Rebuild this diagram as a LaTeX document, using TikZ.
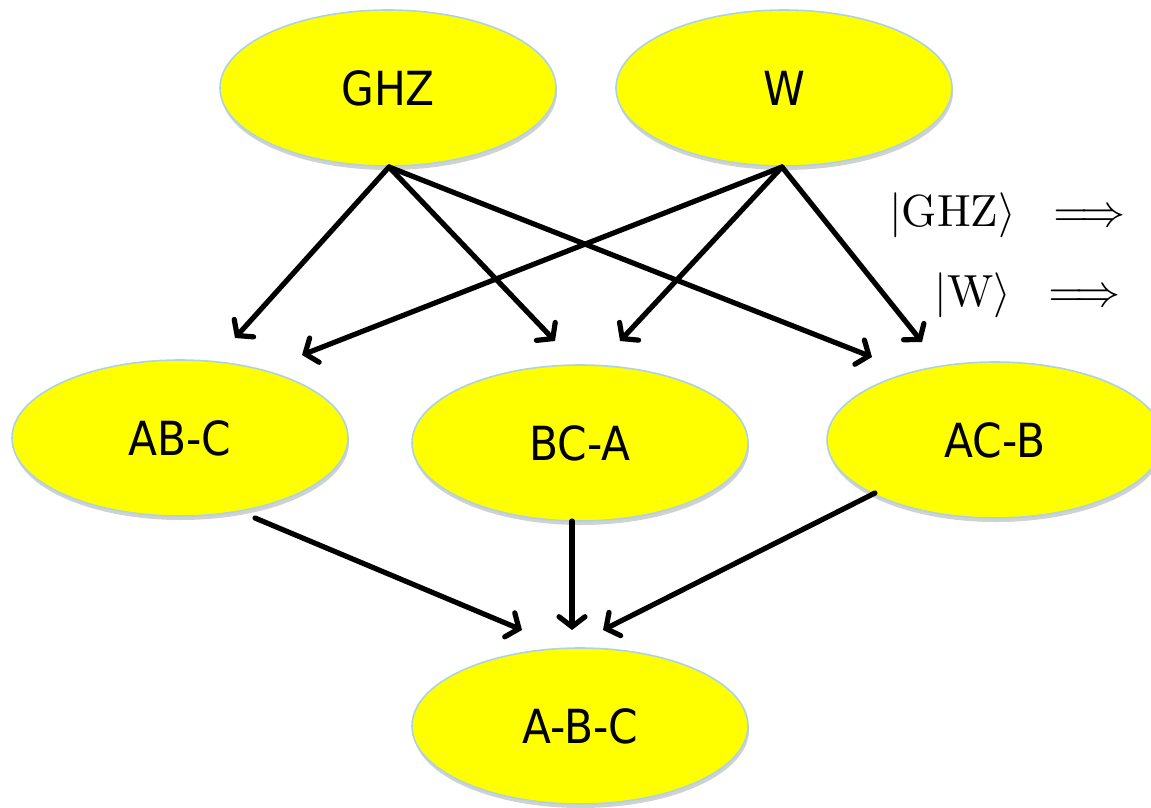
\documentclass[tikz,border=0pt]{standalone}
\usepackage{graphicx}
\usepackage{fontspec}
\newfontfamily\nodefont[FakeStretch=0.9]{DejaVu Sans}
\usetikzlibrary{shapes.geometric,arrows.meta,shadows}
\begin{document}
\begin{tikzpicture}[x=1pt,y=-1pt,
  state/.style={ellipse, fill={rgb,255:red,255;green,255;blue,0}, draw={rgb,255:red,175;green,210;blue,225}, line width=1.6pt,
    minimum width=336pt, minimum height=156pt, inner sep=0pt,
    font=\nodefont\fontsize{47}{50}\selectfont,
    drop shadow={shadow xshift=1pt, shadow yshift=-4pt, opacity=0.18, fill=black}},
  arr/.style={line width=5.2pt, line cap=round, -{Straight Barb[length=10pt,width=26pt,line cap=round]}},
  lab/.style={anchor=base east, inner sep=0pt}]
\path[use as bounding box] (0,0) rectangle (1151,807);

\node[state] (GHZ) at (388,88) {GHZ};
\node[state] (W) at (784,88) {W};
\node[state] (ABC) at (180,438) {AB-C};
\node[state] (BCA) at (580,443) {BC-A};
\node[state] (ACB) at (995,440) {AC-B};
\node[state] (A-B-C) at (580,726) {A-B-C};

\node[lab] (l1) at (1126,226) {\scalebox{4.5}{$|\mathrm{GHZ}\rangle\;\;\Longrightarrow$}};
\node[lab] (l2) at (1121,306) {\scalebox{4.5}{$|\mathrm{W}\rangle\;\;\Longrightarrow$}};

\coordinate (g1) at (235,338);
\coordinate (g2) at (555,341);
\coordinate (g3) at (872,357);
\coordinate (w1) at (302,355);
\coordinate (w2) at (620,341);
\coordinate (w3) at (922,342);
\coordinate (b1) at (522,630);
\coordinate (b2) at (572,630);
\coordinate (b3) at (603,630);
\coordinate (gs) at (389,167);
\coordinate (ws) at (782,167);
\coordinate (s1) at (255,518);
\coordinate (s2) at (572,521);
\coordinate (s3) at (875,493);

\draw[arr] (gs) -- (g1);
\draw[arr] (gs) -- (g2);
\draw[arr] (gs) -- (g3);
\draw[arr] (ws) -- (w1);
\draw[arr] (ws) -- (w2);
\draw[arr] (ws) -- (w3);
\draw[arr] (s1) -- (b1);
\draw[arr] (s2) -- (b2);
\draw[arr] (s3) -- (b3);
\end{tikzpicture}
\end{document}
